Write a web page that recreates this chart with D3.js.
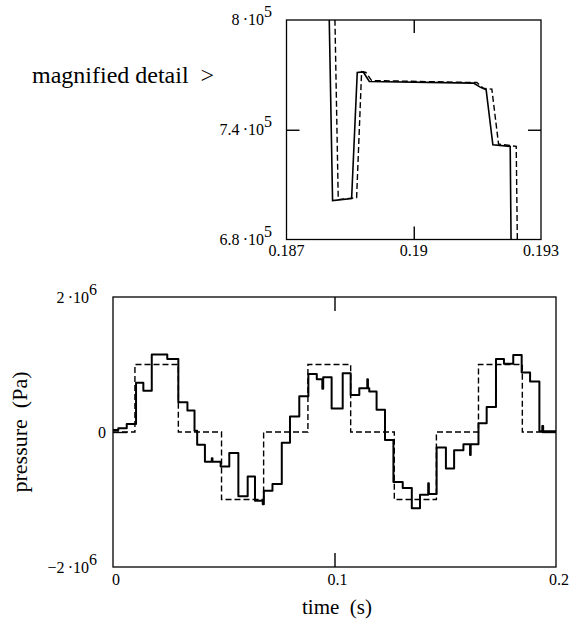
<!DOCTYPE html>
<html>
<head>
<meta charset="utf-8">
<script src="https://cdn.jsdelivr.net/npm/d3@7"></script>
<style>
  body { margin: 0; background: #fff; }
  svg { display: block; }
</style>
</head>
<body>
<svg width="570" height="632" font-family="Liberation Serif, DejaVu Serif, serif"></svg>
<script>
// main plot, measured pressure (units of 1e6 Pa), each value holds until the next time
const mainTimes = [0, 0.0024, 0.0062, 0.0104, 0.0137, 0.0175, 0.0245, 0.0295, 0.0336, 0.0368,
  0.038, 0.0415, 0.0446, 0.0449, 0.0486, 0.0525, 0.0566, 0.0608, 0.0641, 0.0676,
  0.0681, 0.072, 0.0762, 0.0799, 0.0841, 0.0882, 0.092, 0.0945, 0.0949, 0.0987,
  0.1037, 0.1073, 0.1112, 0.1148, 0.1151, 0.1157, 0.119, 0.1228, 0.1266, 0.1308,
  0.1349, 0.1386, 0.1423, 0.1426, 0.1461, 0.1503, 0.154, 0.1582, 0.1612, 0.1615,
  0.165, 0.1687, 0.1729, 0.1765, 0.1807, 0.1845, 0.1883, 0.1925, 0.1938, 0.1942, 0.2]
const mainPressure = [0.03, 0.055, 0.12, 0.73, 0.61, 1.15, 1.08, 0.44, 0.32, 0.02,
  -0.19, -0.44, -0.39, -0.44, -0.51, -0.31, -0.95, -0.66, -1.02, -1.07,
  -0.87, -0.77, -0.16, 0.23, 0.53, 0.86, 0.78, 0.64, 0.81, 0.35,
  0.87, 0.55, 0.65, 0.78, 0.65, 0.60, 0.33, -0.12, -0.74, -0.83,
  -1.13, -0.93, -0.76, -0.92, -0.23, -0.54, -0.27, -0.18, -0.34, -0.18,
  0.13, 0.37, 1.08, 1.01, 1.14, 0.88, 0.75, 0.01, 0.09, 0.01, 0.01]

// main plot, reference step pressure (dashed)
const refTimes = [0, 0.0099, 0.0295, 0.049, 0.068, 0.088, 0.1073, 0.127, 0.146, 0.165, 0.1848, 0.2]
const refPressure = [0, 1, 0, -1, 0, 1, 0, -1, 0, 1, 0, 0]

// magnified detail (Pa)
const detailTimes = [0.18800, 0.188086, 0.188535, 0.188668, 0.188810, 0.188952,
  0.191408, 0.191566, 0.191707, 0.191865, 0.192274, 0.192298]
const detailPressure = [8.1e5, 7.013e5, 7.024e5, 7.713e5, 7.716e5, 7.664e5,
  7.655e5, 7.633e5, 7.618e5, 7.318e5, 7.309e5, 6.7e5]
const detailRefTimes = [0.188134, 0.188220, 0.188653, 0.188771, 0.188873, 0.189007,
  0.191487, 0.191644, 0.191841, 0.191999, 0.192416, 0.192447]
const detailRefPressure = [8.1e5, 7.018e5, 7.029e5, 7.718e5, 7.713e5, 7.669e5,
  7.658e5, 7.627e5, 7.622e5, 7.322e5, 7.309e5, 6.7e5]

// tick labels: [value, mantissa, exponent]
const mainXTicks = [0, 0.1, 0.2]
const mainXLabels = ['0', '0.1', '0.2']
const mainYTicks = [[2, '2', '6'], [0, '0', ''], [-2, '\u22122', '6']]
const detailXTicks = [0.187, 0.19, 0.193]
const detailXLabels = ['0.187', '0.19', '0.193']
const detailYTicks = [[8e5, '8', '5'], [7.4e5, '7.4', '5'], [6.8e5, '6.8', '5']]

const svg = d3.select('svg')
const serif = 'Liberation Serif, DejaVu Serif, serif'

const mainBox = { left: 113, right: 556, top: 297, bottom: 567 }
const detailBox = { left: 286.5, right: 541, top: 20, bottom: 239.5 }

// scales
const x = d3.scaleLinear().domain([0, 0.2]).range([mainBox.left, mainBox.right])
const y = d3.scaleLinear().domain([-2, 2]).range([mainBox.bottom, mainBox.top])
const xd = d3.scaleLinear().domain([0.187, 0.193]).range([detailBox.left, detailBox.right])
const yd = d3.scaleLinear().domain([6.8e5, 8e5]).range([detailBox.bottom, detailBox.top])

const defs = svg.append('defs')
defs.append('clipPath').attr('id', 'clipMain')
  .append('rect')
  .attr('x', mainBox.left).attr('y', mainBox.top)
  .attr('width', mainBox.right - mainBox.left).attr('height', mainBox.bottom - mainBox.top)
defs.append('clipPath').attr('id', 'clipDetail')
  .append('rect')
  .attr('x', detailBox.left).attr('y', detailBox.top)
  .attr('width', detailBox.right - detailBox.left).attr('height', detailBox.bottom - detailBox.top)

// lines
const mainLine = d3.line()
  .x((d, i) => x(mainTimes[i]))
  .y(d => y(d))
  .curve(d3.curveStepAfter)
const refLine = d3.line()
  .x((d, i) => x(refTimes[i]))
  .y(d => y(d))
  .curve(d3.curveStepAfter)
const detailLine = d3.line()
  .x((d, i) => xd(detailTimes[i]))
  .y(d => yd(d))
const detailRefLine = d3.line()
  .x((d, i) => xd(detailRefTimes[i]))
  .y(d => yd(d))

const gMain = svg.append('g').attr('clip-path', 'url(#clipMain)')
gMain.append('path')
  .attr('d', refLine(refPressure))
  .attr('fill', 'none').attr('stroke', '#000')
  .attr('stroke-width', 1.4).attr('stroke-dasharray', '6,3')
gMain.append('path')
  .attr('d', mainLine(mainPressure))
  .attr('fill', 'none').attr('stroke', '#000')
  .attr('stroke-width', 2).attr('stroke-linejoin', 'round')

const gDet = svg.append('g').attr('clip-path', 'url(#clipDetail)')
gDet.append('path')
  .attr('d', detailRefLine(detailRefPressure))
  .attr('fill', 'none').attr('stroke', '#000')
  .attr('stroke-width', 1.4).attr('stroke-dasharray', '6,3')
gDet.append('path')
  .attr('d', detailLine(detailPressure))
  .attr('fill', 'none').attr('stroke', '#000')
  .attr('stroke-width', 1.6)

// frames and inner ticks
function frame(box, xs, ys, xTick, yTick, len) {
  svg.append('rect')
    .attr('x', box.left).attr('y', box.top)
    .attr('width', box.right - box.left).attr('height', box.bottom - box.top)
    .attr('fill', 'none').attr('stroke', '#000').attr('stroke-width', 1.3)

  const axes = [
    [d3.axisBottom(xs).tickValues([xTick]), `translate(0,${box.top})`],
    [d3.axisTop(xs).tickValues([xTick]), `translate(0,${box.bottom})`],
    [d3.axisRight(ys).tickValues([yTick]), `translate(${box.left},0)`],
    [d3.axisLeft(ys).tickValues([yTick]), `translate(${box.right},0)`]
  ]
  axes.forEach(([ax, tr]) => {
    const g = svg.append('g')
      .attr('transform', tr)
      .call(ax.tickSize(len).tickFormat(''))
    g.select('.domain').remove()
    g.selectAll('line').attr('stroke', '#000').attr('stroke-width', 1.4)
  })
}
frame(mainBox, x, y, 0.1, 0, 14)
frame(detailBox, xd, yd, 0.19, 7.4e5, 13)

// tick labels
function powLabel(sel, mant, exp) {
  sel.append('tspan').text(mant)
  if (exp) {
    sel.append('tspan').text('\u2009\u00B710')
    sel.append('tspan').text(exp).attr('dy', -8).attr('font-size', 16)
  }
}

svg.selectAll('.mxl')
  .data(mainXTicks)
  .enter().append('text')
  .attr('x', d => x(d) + 3)
  .attr('y', 585)
  .attr('text-anchor', 'middle')
  .attr('font-family', serif)
  .attr('font-size', 16)
  .text((d, i) => mainXLabels[i])

mainYTicks.forEach(([v, m, e]) => {
  const t = svg.append('text')
    .attr('x', v === 0 ? 106 : 97)
    .attr('y', y(v) + 6)
    .attr('text-anchor', 'end')
    .attr('font-family', serif)
    .attr('font-size', 16)
  powLabel(t, m, e)
})

svg.selectAll('.dxl')
  .data(detailXTicks)
  .enter().append('text')
  .attr('x', d => xd(d))
  .attr('y', 256)
  .attr('text-anchor', 'middle')
  .attr('font-family', serif)
  .attr('font-size', 16)
  .text((d, i) => detailXLabels[i])

detailYTicks.forEach(([v, m, e]) => {
  const t = svg.append('text')
    .attr('x', 272)
    .attr('y', yd(v) + 5)
    .attr('text-anchor', 'end')
    .attr('font-family', serif)
    .attr('font-size', 16)
  powLabel(t, m, e)
})

// titles
svg.append('text')
  .attr('x', 32).attr('y', 83)
  .attr('font-family', serif)
  .attr('font-size', 24)
  .attr('xml:space', 'preserve')
  .text('magnified detail  >')

svg.append('text')
  .attr('transform', 'translate(27,432) rotate(-90)')
  .attr('text-anchor', 'middle')
  .attr('font-family', serif)
  .attr('font-size', 22)
  .attr('xml:space', 'preserve')
  .text('pressure  (Pa)')

svg.append('text')
  .attr('x', 337).attr('y', 614)
  .attr('text-anchor', 'middle')
  .attr('font-family', serif)
  .attr('font-size', 21)
  .attr('xml:space', 'preserve')
  .text('time  (s)')
</script>
</body>
</html>
